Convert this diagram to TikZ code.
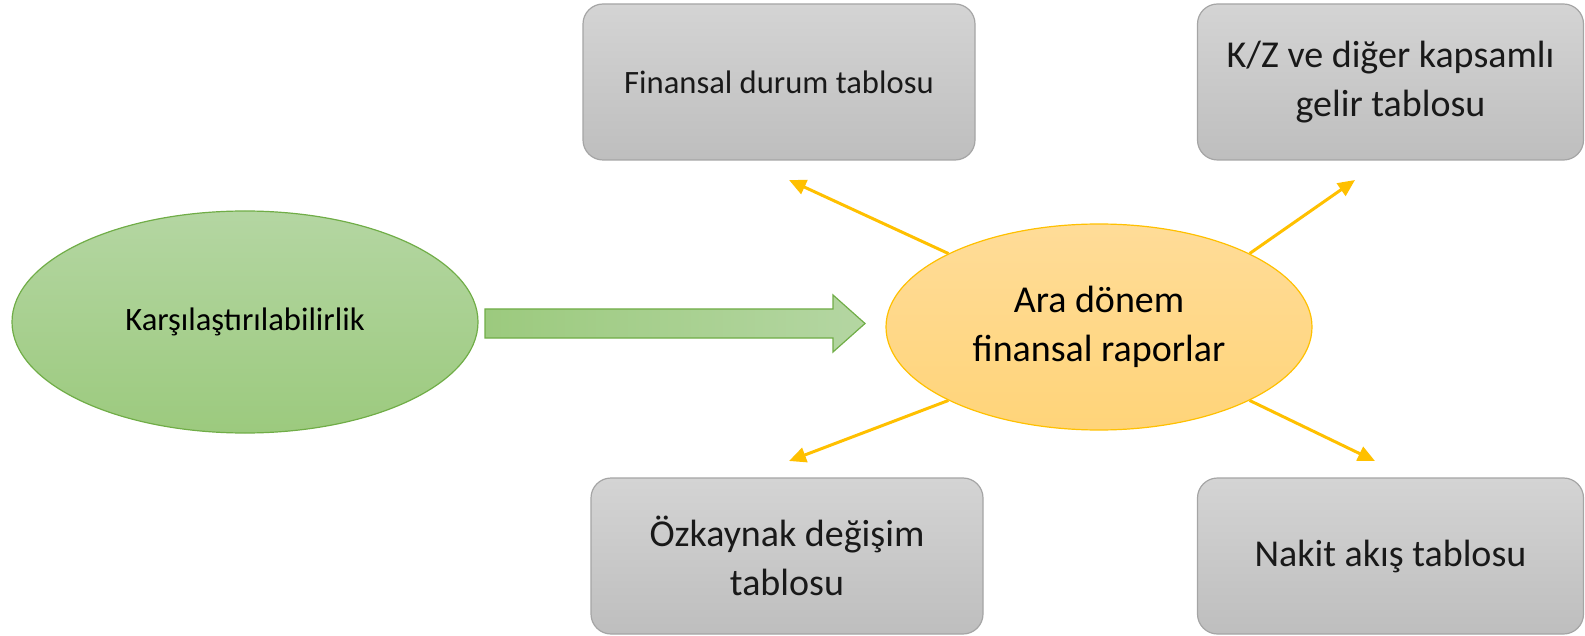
\documentclass[tikz,border=0pt]{standalone}
\usepackage{fontspec}
\setmainfont{Carlito}
\usetikzlibrary{shapes.geometric,arrows.meta}
\definecolor{boxTop}{HTML}{D4D4D4}
\definecolor{boxBot}{HTML}{BEBEBE}
\definecolor{boxLine}{HTML}{A5A5A5}
\definecolor{grnTop}{HTML}{B4D6A2}
\definecolor{grnBot}{HTML}{9CCA7E}
\definecolor{grnLine}{HTML}{70AD47}
\definecolor{ylwTop}{HTML}{FFDC98}
\definecolor{ylwBot}{HTML}{FFD479}
\definecolor{ylwLine}{HTML}{FFC000}

\begin{document}
\begin{tikzpicture}[x=1pt,y=-1pt,
    tablebox/.style={draw=boxLine,line width=1.2pt,rounded corners=20pt,
        top color=boxTop,bottom color=boxBot,minimum width=392pt,
        minimum height=156pt,align=center,text=black!90},
    smalltext/.style={font=\fontsize{32.6}{40}\selectfont},
    bigtext/.style={font=\fontsize{38}{49}\selectfont},
    outarrow/.style={draw=ylwLine,line width=3pt,
        -{Triangle[length=17pt,width=15pt]}}]
    \useasboundingbox (0,0) rectangle (1585,636);
    % the four statements
    \node[tablebox,smalltext] (fdt) at (779,82)    {Finansal durum tablosu};
    \node[tablebox,bigtext,minimum width=386pt] (kzt) at (1390.5,82)  {K/Z ve diğer kapsamlı\\gelir tablosu};
    \node[tablebox,bigtext]   (ozt) at (787,556)   {Özkaynak değişim\\tablosu};
    \node[tablebox,bigtext,minimum width=386pt] (nat) at (1390.5,556) {Nakit akış tablosu};
    % the two ellipses
    \node[ellipse,draw=grnLine,line width=1.2pt,top color=grnTop,bottom color=grnBot,
        minimum width=466pt,minimum height=222pt,smalltext] (kars) at (245,322)
        {Karşılaştırılabilirlik};
    \node[ellipse,draw=ylwLine,line width=1.2pt,top color=ylwTop,bottom color=ylwBot,
        minimum width=426pt,minimum height=206pt,bigtext,align=center] (ara) at (1099,327)
        {Ara dönem\\finansal raporlar};
    % block arrow
    \draw[grnLine,line width=1.2pt,left color=grnBot,right color=grnTop]
        (485,309) -- (833,309) -- (833,295) -- (865,323.5) -- (833,352)
        -- (833,338) -- (485,338) -- cycle;
    % free ends of the yellow arrows
    \coordinate (fdEnd) at (789,180);
    \coordinate (kzEnd) at (1355,180);
    \coordinate (ozEnd) at (789,461);
    \coordinate (naEnd) at (1375,461);
    \draw[outarrow] (ara.154) -- (fdEnd);
    \draw[outarrow] (ara.26)  -- (kzEnd);
    \draw[outarrow] (ara.206) -- (ozEnd);
    \draw[outarrow] (ara.334) -- (naEnd);
\end{tikzpicture}
\end{document}
